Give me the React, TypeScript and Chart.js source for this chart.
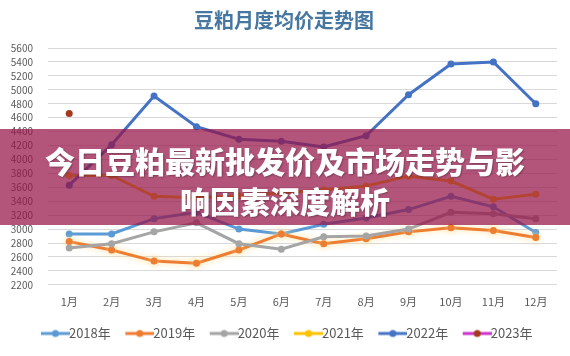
import React, { useEffect, useRef } from "react";
import { Chart, registerables } from "chart.js";

Chart.register(...registerables);

const months = ["1月", "2月", "3月", "4月", "5月", "6月", "7月", "8月", "9月", "10月", "11月", "12月"];
const seriesNames = ["2018年", "2019年", "2020年", "2021年", "2022年", "2023年"];
const y2018 = [2930, 2930, 3150, 3240, 3000, 2930, 3070, 3160, 3280, 3470, 3320, 2950];
const y2019 = [2820, 2700, 2540, 2510, 2700, 2930, 2790, 2860, 2960, 3020, 2980, 2880];
const y2020 = [2730, 2790, 2960, 3090, 2790, 2710, 2890, 2900, 3000, 3240, 3220, 3150];
const y2021 = [3770, 3770, 3470, 3450, 3480, 3520, 3560, 3620, 3760, 3690, 3430, 3500];
const y2022 = [3630, 4210, 4910, 4470, 4290, 4260, 4180, 4340, 4930, 5370, 5400, 4800];
const y2023 = [4660, null, null, null, null, null, null, null, null, null, null, null];
const lineColors = ["#5B9BD5", "#ED7D31", "#A5A5A5", "#FFC000", "#4472C4", "#CC33CC"];
const dotColors = ["#5B9BD5", "#ED7D31", "#A5A5A5", "#FFC000", "#4472C4", "#A5391E"];
const yMin = 2200;
const yMax = 5600;
const yStep = 200;
const chartTitle = "豆粕月度均价走势图";
const bannerLine1 = "今日豆粕最新批发价及市场走势与影";
const bannerLine2 = "响因素深度解析";

function makeIcon(line: string, dot: string) {
  const c = document.createElement("canvas");
  c.width = 42;
  c.height = 10;
  const ctx = c.getContext("2d")!;
  ctx.strokeStyle = line;
  ctx.lineWidth = 3;
  ctx.beginPath();
  ctx.moveTo(13, 5);
  ctx.lineTo(42, 5);
  ctx.stroke();
  ctx.fillStyle = dot;
  ctx.beginPath();
  ctx.arc(27.5, 5, 3.5, 0, Math.PI * 2);
  ctx.fill();
  return c;
}

const glowPlugin = {
  id: "glow2019",
  beforeDatasetDraw(chart: any, args: any) {
    if (args.index !== 1) return;
    const ctx = chart.ctx;
    ctx.save();
    ctx.shadowColor = "rgba(255, 220, 140, 0.9)";
    ctx.shadowBlur = 6;
  },
  afterDatasetDraw(chart: any, args: any) {
    if (args.index !== 1) return;
    chart.ctx.restore();
  },
};

export default function App() {
  const ref = useRef<HTMLCanvasElement | null>(null);

  useEffect(() => {
    if (!ref.current) return;
    const all = [y2018, y2019, y2020, y2021, y2022, y2023];
    const icons = lineColors.map((c, i) => makeIcon(c, dotColors[i]));
    const font = "'Noto Sans CJK SC', 'Noto Sans', sans-serif";
    const chart = new Chart(ref.current, {
      type: "line",
      plugins: [glowPlugin],
      data: {
        labels: months,
        datasets: all.map((d, i) => ({
          label: seriesNames[i],
          data: d,
          borderColor: lineColors[i],
          backgroundColor: dotColors[i],
          pointBackgroundColor: dotColors[i],
          pointBorderColor: dotColors[i],
          borderWidth: 3,
          pointRadius: 3.5,
          pointBorderWidth: 0,
          tension: 0,
          spanGaps: false,
          order: 5 - i,
        })),
      },
      options: {
        responsive: false,
        animation: false,
        devicePixelRatio: 1,
        layout: { padding: { left: 11, right: 13, top: 0, bottom: 6 } },
        plugins: {
          tooltip: { enabled: false },
          title: {
            display: true,
            text: chartTitle,
            color: "#4677a0",
            font: { family: font, size: 20, weight: "bold" },
            padding: { top: 8, bottom: 16 },
          },
          legend: {
            position: "bottom",
            labels: {
              usePointStyle: true,
              pointStyleWidth: 27,
              boxHeight: 10,
              padding: 9,
              color: "#595959",
              font: { family: font, size: 13 },
              generateLabels: (ch: any) =>
                ch.data.datasets.map((ds: any, i: number) => ({
                  text: ds.label,
                  pointStyle: icons[i],
                  fillStyle: dotColors[i],
                  strokeStyle: lineColors[i],
                  lineWidth: 0,
                  hidden: false,
                  datasetIndex: i,
                  fontColor: "#595959",
                })),
            },
          },
        },
        scales: {
          x: {
            offset: true,
            grid: { display: false, drawTicks: false },
            border: { display: false },
            ticks: { color: "#595959", font: { family: font, size: 11 }, padding: 10, maxRotation: 0 },
          },
          y: {
            min: yMin,
            max: yMax,
            grid: { color: "#D9D9D9", drawTicks: false, lineWidth: 1 },
            border: { display: false },
            afterFit: (scale: any) => {
              scale.width = 37;
            },
            ticks: {
              stepSize: yStep,
              autoSkip: false,
              color: "#595959",
              font: { family: font, size: 10 },
              padding: 15,
              callback: (v: any) => String(v),
            },
          },
        },
      },
    });
    return () => chart.destroy();
  }, []);

  return (
    <div style={{ position: "absolute", left: 0, top: 0, width: 570, height: 356, background: "#fff", overflow: "hidden" }}>
      <canvas ref={ref} width={570} height={356} style={{ display: "block" }} />
      <div
        style={{
          position: "absolute",
          left: 0,
          top: 129,
          width: 570,
          height: 96,
          background: "rgba(150, 20, 70, 0.72)",
          color: "#fff",
          fontFamily: "'Noto Sans CJK SC', sans-serif",
          fontWeight: 900,
          fontSize: 30,
          lineHeight: "40px",
          textAlign: "center",
          paddingTop: 11,
          boxSizing: "border-box",
          textShadow: "1px 1px 2px rgba(0,0,0,0.3)",
        }}
      >
        <div>{bannerLine1}</div>
        <div>{bannerLine2}</div>
      </div>
    </div>
  );
}
